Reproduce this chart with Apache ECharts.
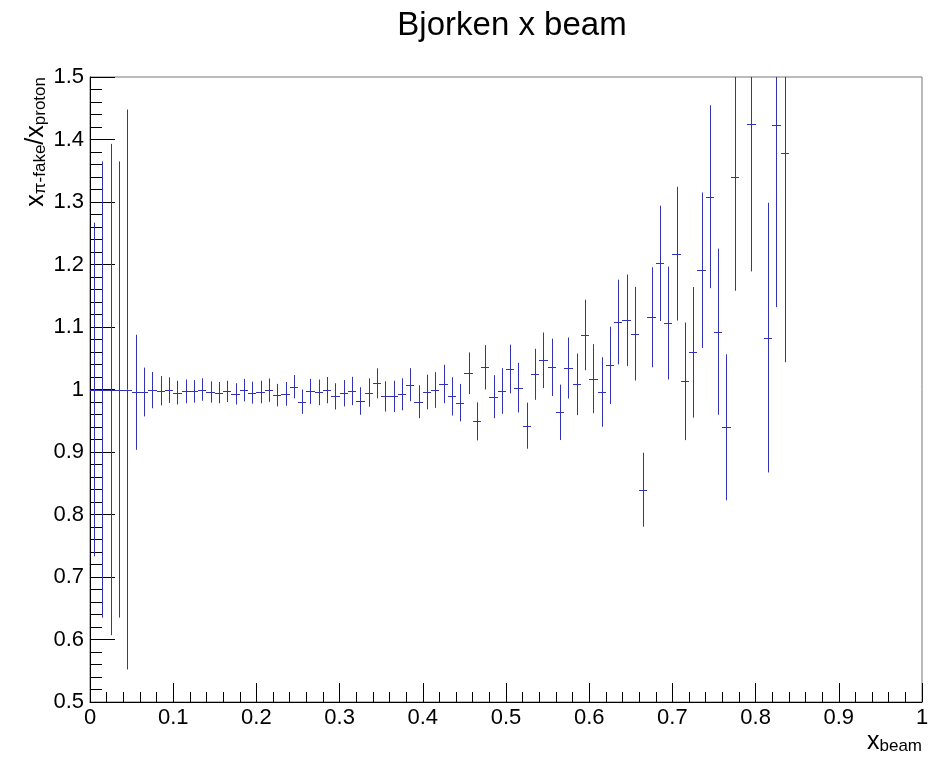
<!DOCTYPE html>
<html>
<head>
<meta charset="utf-8">
<script src="https://cdn.jsdelivr.net/npm/echarts@6/dist/echarts.min.js"></script>
<style>html,body{margin:0;padding:0;background:#fff}#c{width:943px;height:757px}</style>
</head>
<body>
<div id="c"></div>
<script>
// ---- data ----
const binWidth = 0.01;
const binCenters = [
  0.005,0.015,0.025,0.035,0.045,0.055,0.065,0.075,0.085,0.095,
  0.105,0.115,0.125,0.135,0.145,0.155,0.165,0.175,0.185,0.195,
  0.205,0.215,0.225,0.235,0.245,0.255,0.265,0.275,0.285,0.295,
  0.305,0.315,0.325,0.335,0.345,0.355,0.365,0.375,0.385,0.395,
  0.405,0.415,0.425,0.435,0.445,0.455,0.465,0.475,0.485,0.495,
  0.505,0.515,0.525,0.535,0.545,0.555,0.565,0.575,0.585,0.595,
  0.605,0.615,0.625,0.635,0.645,0.655,0.665,0.675,0.685,0.695,
  0.705,0.715,0.725,0.735,0.745,0.755,0.765,0.775,0.785,0.795,
  0.805,0.815,0.825,0.835
];
const ratio = [
  1.000,1.000,1.000,1.000,1.000,0.9955,0.996,0.999,0.998,0.999,
  0.995,0.997,0.997,1.000,0.996,0.995,0.997,0.993,0.999,0.995,
  0.996,0.999,0.991,0.993,1.0045,0.9805,0.997,0.9955,0.999,0.989,
  0.994,0.9976,0.9816,0.995,1.0099,0.989,0.989,0.9923,1.0077,0.9805,
  0.996,0.9992,1.0088,0.989,0.979,1.026,0.949,1.0355,0.9885,0.9976,
  1.0328,1.0029,0.9421,1.0243,1.0467,1.0355,0.9635,1.0344,1.0083,1.0872,
  1.0173,0.996,1.0387,1.108,1.1107,1.0893,0.8397,1.1155,1.2019,1.1064,
  1.2173,1.0131,1.0595,1.1907,1.3085,1.0925,0.9395,1.340,null,1.425,
  null,1.083,1.4235,1.378
];
const ratioErr = [
  0.267,0.365,0.393,0.365,0.448,0.092,0.039,0.029,0.0235,0.0205,
  0.019,0.019,0.018,0.018,0.017,0.017,0.017,0.017,0.018,0.0176,
  0.018,0.0187,0.018,0.019,0.0187,0.0195,0.020,0.0205,0.021,0.021,
  0.021,0.0227,0.022,0.0227,0.024,0.0243,0.025,0.0256,0.0264,0.0264,
  0.0277,0.0285,0.0307,0.0307,0.030,0.0333,0.0304,0.0355,0.0344,0.0365,
  0.039,0.0397,0.0368,0.0408,0.0445,0.0459,0.0443,0.0488,0.0493,0.0565,
  0.0552,0.0557,0.0618,0.0677,0.0733,0.0749,0.0592,0.080,0.0923,0.0904,
  0.107,0.0941,0.1045,0.1245,0.1464,0.133,0.1168,0.182,null,0.236,
  null,0.2157,0.2917,0.3345
];
const xTicks = [0,0.1,0.2,0.3,0.4,0.5,0.6,0.7,0.8,0.9,1];
const yTicks = [0.5,0.6,0.7,0.8,0.9,1,1.1,1.2,1.3,1.4,1.5];

// ---- chart ----
const FONT = 'Liberation Sans, Arial, Helvetica, sans-serif';
const MARK = '#3232b4';
const seriesData = [];
for (let i = 0; i < binCenters.length; i++) {
  if (ratio[i] == null) continue;
  seriesData.push([binCenters[i], ratio[i], ratioErr[i]]);
}

function renderItem(params, api) {
  const x = api.value(0), v = api.value(1), e = api.value(2);
  const cs = params.coordSys;
  const top = cs.y, bot = cs.y + cs.height;
  const clampY = y => Math.max(top, Math.min(bot, y));
  const pc = api.coord([x, v]);
  const pt = api.coord([x, v + e]);
  const pb = api.coord([x, v - e]);
  const pl = api.coord([x - binWidth / 2, v]);
  const pr = api.coord([x + binWidth / 2, v]);
  const cx = Math.round(pc[0]) + 0.5;
  const children = [{
    type: 'line',
    shape: { x1: cx, y1: clampY(pt[1]), x2: cx, y2: clampY(pb[1]) },
    style: { stroke: MARK, lineWidth: 1 }
  }];
  if (pc[1] >= top && pc[1] <= bot) {
    const cy = Math.round(pc[1]) + 0.5;
    children.push({
      type: 'line',
      shape: { x1: Math.round(pl[0]), y1: cy, x2: Math.round(pr[0]), y2: cy },
      style: { stroke: MARK, lineWidth: 1 }
    });
  }
  return { type: 'group', children };
}

const chart = echarts.init(document.getElementById('c'), null, { renderer: 'canvas' });
chart.setOption({
  animation: false,
  backgroundColor: '#fff',
  title: {
    text: 'Bjorken x beam',
    left: 507, top: 4, textAlign: 'center',
    textStyle: { fontFamily: FONT, fontSize: 33, fontWeight: 'normal', color: '#000' }
  },
  grid: {
    left: 90, right: 21, top: 77, bottom: 55,
    show: true, borderColor: '#777', borderWidth: 1, backgroundColor: 'transparent'
  },
  xAxis: {
    type: 'value', min: xTicks[0], max: xTicks[xTicks.length - 1], interval: 0.1,
    axisLine: { onZero: false, lineStyle: { color: '#000', width: 1 } },
    axisTick: { inside: true, length: 19, lineStyle: { color: '#000' } },
    minorTick: { show: true, splitNumber: 5, length: 10, lineStyle: { color: '#000' } },
    splitLine: { show: false },
    axisLabel: { color: '#000', fontFamily: FONT, fontSize: 22, margin: 5,
      formatter: v => String(+v.toFixed(2)) }
  },
  yAxis: {
    type: 'value', min: yTicks[0], max: yTicks[yTicks.length - 1], interval: 0.1,
    axisLine: { show: true, onZero: false, lineStyle: { color: '#000', width: 1 } },
    axisTick: { show: true, inside: true, length: 25, lineStyle: { color: '#000' } },
    minorTick: { show: true, splitNumber: 5, length: 12, lineStyle: { color: '#000' } },
    splitLine: { show: false },
    axisLabel: { color: '#000', fontFamily: FONT, fontSize: 22, margin: 6,
      formatter: v => String(+v.toFixed(2)) }
  },
  graphic: [
    {
      type: 'text', x: 922, y: 742,
      style: {
        text: '{m|x}{s|beam}', align: 'right', verticalAlign: 'middle',
        rich: {
          m: { fontFamily: FONT, fontSize: 25, lineHeight: 26, fill: '#000', verticalAlign: 'bottom' },
          s: { fontFamily: FONT, fontSize: 17, lineHeight: 12, fill: '#000', verticalAlign: 'bottom' }
        }
      }
    },
    {
      type: 'text', x: 36, y: 77, rotation: Math.PI / 2,
      style: {
        text: '{m|x}{s|π-fake}{m|/x}{s|proton}', align: 'right', verticalAlign: 'middle',
        rich: {
          m: { fontFamily: FONT, fontSize: 25, lineHeight: 26, fill: '#000', verticalAlign: 'bottom' },
          s: { fontFamily: FONT, fontSize: 17, lineHeight: 12, fill: '#000', verticalAlign: 'bottom' }
        }
      }
    }
  ],
  series: [{
    type: 'custom',
    renderItem: renderItem,
    encode: { x: 0, y: 1 },
    data: seriesData,
    clip: true,
    silent: true
  }]
});
</script>
</body>
</html>
